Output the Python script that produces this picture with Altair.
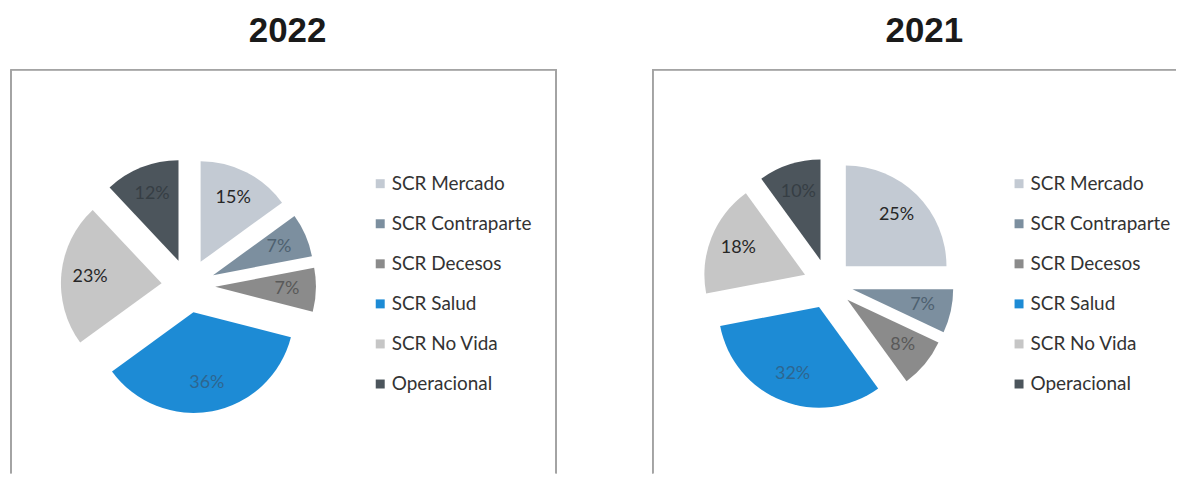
import math
import altair as alt
import pandas as pd

categories = ["SCR Mercado", "SCR Contraparte", "SCR Decesos", "SCR Salud", "SCR No Vida", "Operacional"]
values_2022 = [15, 7, 7, 36, 23, 12]
values_2021 = [25, 7, 8, 32, 18, 10]

slice_colors = ["#c3cad3", "#7c8f9f", "#8b8b8b", "#1d8bd5", "#c6c6c6", "#4c555c"]
label_colors = ["#262626", "#4e6170", "#595959", "#2d6690", "#262626", "#363e44"]

FONT = "Lato"
R = 101
TWO_PI = 2 * math.pi
BORDER = "#a4a4a4"


def panel(year, values, cx, cy, W, H, explode, lab_r, legend_x, legend_y, title_dx, right_border):
    df = pd.DataFrame({
        "cat": categories,
        "value": values,
        "order": list(range(len(categories))),
        "lcolor": label_colors,
        "label": [f"{v}%" for v in values],
    })
    xs = alt.Scale(domain=[-cx, W - cx], nice=False, zero=False)
    ys = alt.Scale(domain=[-cy, H - cy], nice=False, zero=False, reverse=True)
    base = alt.Chart(df).transform_window(
        t1="sum(value)", sort=[alt.SortField("order")], frame=[None, 0]
    ).transform_calculate(
        t0="datum.t1 - datum.value",
        mid=f"(datum.t1 - datum.value / 2) / 100 * {TWO_PI}",
    ).transform_calculate(
        ox=f"{explode} * sin(datum.mid)",
        oy=f"-{explode} * cos(datum.mid)",
        lx=f"{lab_r} * sin(datum.mid)",
        ly=f"-{lab_r} * cos(datum.mid)",
    )
    arcs = base.mark_arc(outerRadius=R, stroke=None).encode(
        x=alt.X("ox:Q", scale=xs, axis=None),
        y=alt.Y("oy:Q", scale=ys, axis=None),
        theta=alt.Theta("t0:Q", scale=alt.Scale(domain=[0, 100], range=[0, TWO_PI]), stack=None),
        theta2="t1:Q",
        color=alt.Color(
            "cat:N",
            scale=alt.Scale(domain=categories, range=slice_colors),
            sort=categories,
            legend=alt.Legend(
                title=None, orient="none", legendX=legend_x, legendY=legend_y,
                symbolType="square", symbolSize=81, symbolStrokeWidth=0,
                labelFont=FONT, labelFontSize=19, labelColor="#333333",
                labelOffset=2, rowPadding=20.2, padding=0,
            ),
        ),
    )
    labels = base.mark_text(font=FONT, fontSize=18, align="center", baseline="middle").encode(
        x=alt.X("lx:Q", scale=xs, axis=None),
        y=alt.Y("ly:Q", scale=ys, axis=None),
        text="label:N",
        color=alt.Color("lcolor:N", scale=None),
    )
    border_top = alt.Chart(df).mark_rule(color=BORDER, strokeWidth=1.2).encode(
        x=alt.value(0), x2=alt.value(W), y=alt.value(0)
    )
    border_left = alt.Chart(df).mark_rule(color=BORDER, strokeWidth=1.2).encode(
        x=alt.value(0), y=alt.value(0), y2=alt.value(H)
    )
    layers = [border_top, border_left]
    if right_border:
        border_right = alt.Chart(df).mark_rule(color=BORDER, strokeWidth=1.2).encode(
            x=alt.value(W), y=alt.value(0), y2=alt.value(H)
        )
        layers.append(border_right)
    return alt.layer(*layers, arcs, labels).properties(
        width=W, height=H,
        title=alt.TitleParams(
            text=year, font="Liberation Sans", fontSize=35, fontWeight="bold",
            color="#1a1a1a", anchor="middle", dx=title_dx, offset=20,
        ),
    )


left = panel("2022", values_2022, 178, 217, 547, 405, 27, 99, 361, 105, 4, True)
right = panel("2021", values_2021, 176, 215, 525, 405, 25, 97, 358, 105, 10, False)

chart = alt.hconcat(left, right, spacing=95).resolve_scale(color="independent").configure(
    padding={"left": 2, "top": 5, "right": 0, "bottom": 0}, background="white"
).configure_view(stroke=None)

chart.save("out.html", embed_options={"renderer": "svg", "actions": False})
